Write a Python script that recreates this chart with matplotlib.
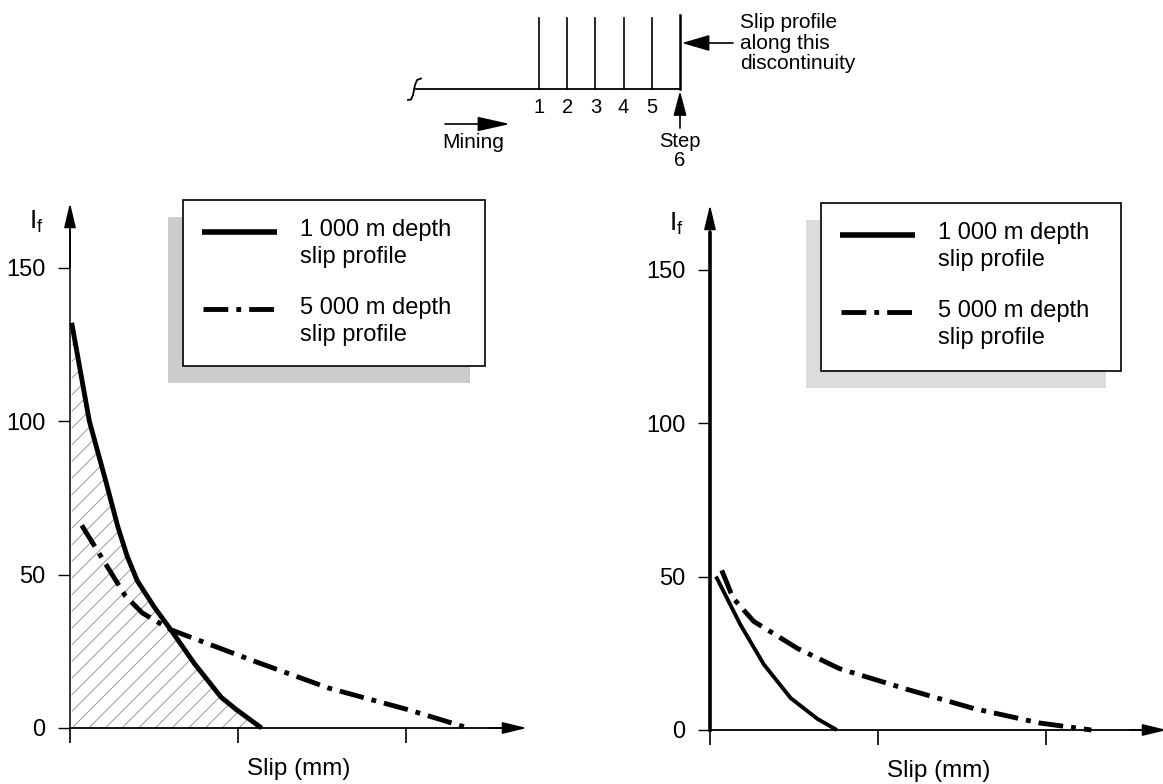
import numpy as np
import matplotlib.pyplot as plt
from matplotlib.patches import Rectangle

plt.rcParams['font.family'] = ['Liberation Sans', 'DejaVu Sans']
plt.rcParams['hatch.linewidth'] = 0.6

W, H = 1163, 784

# slip (in x-tick units) and I_f
left_1000_slip = [0.01, 0.115, 0.165, 0.215, 0.285, 0.34, 0.40, 0.50, 0.60, 0.74, 0.90, 0.99, 1.14]
left_1000_if = [132, 100, 90, 80, 65.5, 56, 48, 39.5, 32, 21, 10, 6, 0]
left_5000_slip = [0.07, 0.20, 0.33, 0.43, 0.60, 1.11, 1.54, 2.01, 2.37]
left_5000_if = [66, 54.5, 43, 37.5, 32, 21.5, 13, 6, 0]

right_1000_slip = [0.036, 0.18, 0.32, 0.48, 0.64, 0.755]
right_1000_if = [50, 34.4, 21.4, 10.4, 3.6, 0]
right_5000_slip = [0.07, 0.137, 0.26, 0.52, 0.77, 1.17, 1.57, 1.96, 2.27]
right_5000_if = [52, 43, 35.4, 26.6, 20, 13.3, 7, 2.3, 0]

yticks = [0, 50, 100, 150]
xticks = [0, 1, 2]
legend_labels = [["1 000 m depth", "slip profile"], ["5 000 m depth", "slip profile"]]
steps = [1, 2, 3, 4, 5]

DASHDOT = (0, (5.1, 1.65, 1.0, 1.65))

fig = plt.figure(figsize=(W / 100, H / 100), dpi=100)

UX, UY = 168, 3.07
XLIM, YLIM = (-0.3, 2.8), (-16, 178)


def make_axes(x0, y0, ylw):
    left = x0 + XLIM[0] * UX
    bot = y0 - YLIM[0] * UY
    top = y0 - YLIM[1] * UY
    ax = fig.add_axes([left / W, 1 - bot / H, (XLIM[1] - XLIM[0]) * UX / W, (bot - top) / H])
    ax.set_xlim(XLIM)
    ax.set_ylim(YLIM)
    ax.patch.set_alpha(0)
    for s in ['top', 'right']:
        ax.spines[s].set_visible(False)
    ax.spines['left'].set_position(('data', 0))
    ax.spines['bottom'].set_position(('data', 0))
    ax.spines['left'].set_bounds(0, 162)
    ax.spines['bottom'].set_bounds(0, 2.6)
    ax.spines['left'].set_linewidth(ylw)
    ax.spines['bottom'].set_linewidth(1.3)
    ax.set_xticks(xticks)
    ax.set_xticklabels([])
    ax.set_yticks(yticks)
    ax.tick_params(axis='x', direction='out', length=11, width=1.2)
    ax.tick_params(axis='y', direction='out', length=8.5, width=1.0, pad=9, labelsize=17)
    arrow = dict(arrowstyle='-|>,head_length=1.5,head_width=0.36', color='k',
                 lw=1.2, shrinkA=0, shrinkB=0, mutation_scale=10)
    ax.annotate('', xy=(0, 171), xytext=(0, 150), arrowprops=arrow)
    ax.annotate('', xy=(2.72, 0), xytext=(2.5, 0), arrowprops=arrow)
    ax.text(-0.2, 165, r'$\mathregular{I_f}$', fontsize=19, ha='center', va='center')
    ax.text(1.36, -13.5, 'Slip (mm)', fontsize=17.5, ha='center', va='center')
    return ax


axl = make_axes(70, 728, 1.1)
axl.fill_between(left_1000_slip, 0, left_1000_if, facecolor='none', edgecolor='#8a8a8a',
                 hatch='//', linewidth=0)
axl.plot(left_1000_slip, left_1000_if, color='k', lw=3.5, solid_capstyle='butt',
         solid_joinstyle='round')
axl.plot(left_5000_slip, left_5000_if, color='k', lw=3.5, linestyle=DASHDOT,
         dash_capstyle='butt')

axr = make_axes(710, 730, 2.6)
axr.plot(right_1000_slip, right_1000_if, color='k', lw=2.8, solid_capstyle='butt',
         solid_joinstyle='round')
axr.plot(right_5000_slip, right_5000_if, color='k', lw=3.5, linestyle=DASHDOT,
         dash_capstyle='butt')

# overlay in pixel space for legends and the sketch on top
ov = fig.add_axes([0, 0, 1, 1], zorder=5)
ov.set_xlim(0, W)
ov.set_ylim(H, 0)
ov.axis('off')
ov.patch.set_alpha(0)


def legend_box(x, y, w, h, shade):
    ov.add_patch(Rectangle((x - 15, y + 17), w, h, facecolor=shade, edgecolor='none'))
    ov.add_patch(Rectangle((x, y), w, h, facecolor='white', edgecolor='k', lw=1.2))
    ov.plot([x + 19, x + 94], [y + 32, y + 32], color='k', lw=4.0, solid_capstyle='butt')
    ov.plot([x + 20, x + 92], [y + 109, y + 109], color='k', lw=3.5, linestyle=DASHDOT,
            dash_capstyle='butt')
    for i, lines in enumerate(legend_labels):
        base = y + 30 + i * 78
        for j, t in enumerate(lines):
            ov.text(x + 117, base + j * 27, t, fontsize=17, va='center', ha='left')


legend_box(183, 200, 302, 166, '#cccccc')
legend_box(821, 203, 300, 168, '#dcdcdc')

# sketch: excavation steps along the discontinuity
line_y = 89
step_x = [539 + (s - 1) * 28.2 for s in steps]
last_x = step_x[-1] + 28.2
ov.plot([416, last_x], [line_y, line_y], color='k', lw=1.3)
ov.plot([408, 411, 413, 415, 417, 421], [100, 99.5, 95, 85, 80, 78.5], color='k', lw=1.3)
for s, x in zip(steps, step_x):
    ov.plot([x, x], [18, line_y], color='k', lw=1.2)
    ov.text(x, 107, str(s), fontsize=14.5, ha='center', va='center')
ov.plot([last_x, last_x], [15, line_y], color='k', lw=1.8)

head = dict(color='k', lw=1.2, shrinkA=0, shrinkB=0, mutation_scale=10)
ov.annotate('', xy=(last_x, line_y + 2), xytext=(last_x, 128),
            arrowprops=dict(arrowstyle='-|>,head_length=1.5,head_width=0.4', **head))
ov.text(last_x, 141, 'Step', fontsize=14.5, ha='center', va='center')
ov.text(last_x, 160, '6', fontsize=14.5, ha='center', va='center')

ov.annotate('', xy=(510, 124), xytext=(445, 124),
            arrowprops=dict(arrowstyle='-|>,head_length=2.0,head_width=0.45', **head))
ov.text(473, 142, 'Mining', fontsize=15, ha='center', va='center')

ov.annotate('', xy=(last_x + 2, 43), xytext=(733, 43),
            arrowprops=dict(arrowstyle='-|>,head_length=1.7,head_width=0.5', **head))
ov.text(740, 13, 'Slip profile\nalong this\ndiscontinuity', fontsize=15, ha='left',
        va='top', linespacing=1.1)

fig.savefig('out.png', dpi=100)
